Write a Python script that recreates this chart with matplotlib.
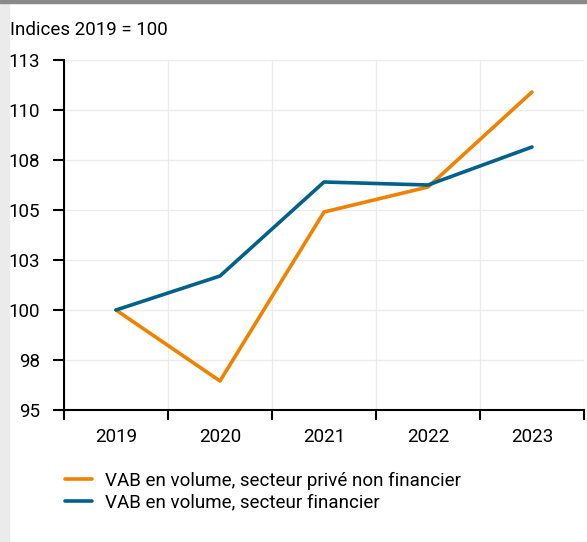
import matplotlib
matplotlib.use("Agg")
import matplotlib.pyplot as plt
from matplotlib.patches import Rectangle

# data
years = ["2019", "2020", "2021", "2022", "2023"]
prive_non_fin = [100, 96.45, 104.9, 106.15, 110.9]
financier = [100, 101.7, 106.4, 106.25, 108.15]
y_ticks = [95, 97.5, 100, 102.5, 105, 107.5, 110, 112.5]
y_labels = ["95", "98", "100", "103", "105", "108", "110", "113"]

orange = "#F08200"
blue = "#00628C"
fs = 13.5

plt.rcParams['font.family'] = ['Roboto', 'DejaVu Sans']

fig = plt.figure(figsize=(5.87, 5.42), dpi=100)
fig.patch.set_facecolor("white")
# grey frame bits of the screenshot
fig.patches.append(Rectangle((0, 0), 9/587, 1, transform=fig.transFigure,
                             color="#ebebeb", zorder=0))
fig.patches.append(Rectangle((0, 1 - 3/542), 1, 3/542, transform=fig.transFigure,
                             color="#8a8a8a", zorder=0))

ax = fig.add_axes([64/587, 1 - 410/542, 520/587, 350/542])

x = list(range(len(years)))
ax.plot(x, prive_non_fin, color=orange, lw=2.6, solid_capstyle="round",
        label="VAB en volume, secteur privé non financier", zorder=3)
ax.plot(x, financier, color=blue, lw=2.6, solid_capstyle="round",
        label="VAB en volume, secteur financier", zorder=3)

ax.set_xlim(-0.5, 4.5)
ax.set_ylim(95, 112.5)

ax.set_yticks(y_ticks)
ax.set_yticklabels(y_labels)
ax.set_xticks(x)
ax.set_xticklabels(years)
ax.set_xticks([i - 0.5 for i in range(len(years) + 1)], minor=True)

ax.tick_params(axis="x", which="major", length=0, pad=13, labelsize=fs)
ax.tick_params(axis="x", which="minor", length=7, width=1.5, direction="out")
ax.tick_params(axis="y", length=8, width=1.5, pad=9, labelsize=fs)

ax.grid(axis="y", color="#ececec", lw=1)
ax.grid(axis="x", which="minor", color="#ececec", lw=1)
ax.set_axisbelow(True)

for s in ["top", "right"]:
    ax.spines[s].set_visible(False)
for s in ["left", "bottom"]:
    ax.spines[s].set_linewidth(1.5)

fig.text(10/587, 1 - 30/542, "Indices 2019 = 100", fontsize=fs, va="center")

fig.legend(loc="upper left", bbox_to_anchor=(48/587, 1 - 455/542), frameon=False,
           fontsize=fs, handlelength=1.45, handletextpad=0.7, labelspacing=0.2)

fig.savefig("out.png", dpi=100)
